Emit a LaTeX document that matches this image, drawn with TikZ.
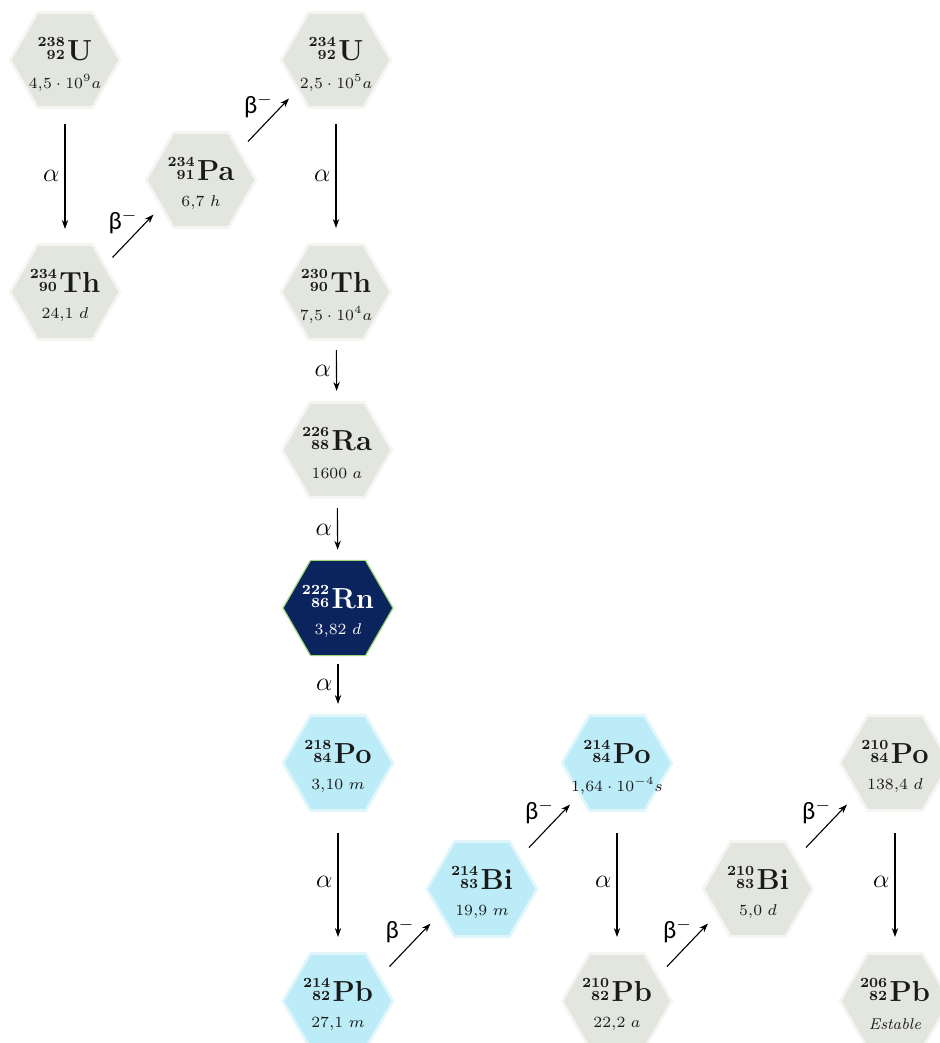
\documentclass[tikz,border=0pt]{standalone}
\usepackage{fix-cm}
\usepackage{fontspec}
\usepackage{amsmath}
\usepackage{xcolor}
\usepackage{tikz}
\usetikzlibrary{shapes.geometric,arrows.meta,calc,positioning}
\newfontfamily\carlito{Carlito}
\definecolor{HexGray}{RGB}{226, 230, 222}
\definecolor{HexBlue}{RGB}{187, 236, 247}
\definecolor{RadonNavy}{RGB}{12, 36, 94}
\definecolor{RadonEdge}{RGB}{160, 215, 120}
\definecolor{SymbolInk}{RGB}{26, 26, 26}
\definecolor{LifeInk}{RGB}{64, 64, 64}
\tikzstyle{hexbase} = [regular polygon, regular polygon sides=6, minimum size=55pt, inner sep=0pt]
\tikzstyle{hexgray} = [hexbase, fill=HexGray, draw=HexGray!35!white, line width=1.4pt]
\tikzstyle{hexblue} = [hexbase, fill=HexBlue, draw=HexBlue!45!white, line width=1.4pt]
\tikzstyle{hexradon} = [hexbase, fill=RadonNavy, draw=RadonEdge, line width=0.6pt]
\tikzstyle{hexgray ink} = [text=SymbolInk]
\tikzstyle{hexblue ink} = [text=SymbolInk]
\tikzstyle{hexradon ink} = [text=white]
\tikzstyle{symb} = [inner sep=0pt]
\tikzstyle{life} = [inner sep=0pt, font=\fontsize{7.8}{8.5}\selectfont]
\tikzstyle{arrow} = [line width=0.55pt, -{Stealth[length=4.5pt,width=3.2pt]}]
\tikzstyle{alphalabel} = [midway, left, inner sep=2.5pt, font=\fontsize{13}{13}\selectfont]
\tikzstyle{betalabel} = [midway, anchor=south east, inner sep=0pt, xshift=2.5pt, yshift=1pt, font=\fontsize{12.5}{12.5}\selectfont]
\tikzstyle{betadecay} = [arrow, to path={($(\tikztostart)!0.5!(\tikztotarget)+(-10.25pt,-10.75pt)$) -- ($(\tikztostart)!0.5!(\tikztotarget)+(10.25pt,10.75pt)$) \tikztonodes}]

% mass number over atomic number, then the element
\newcommand{\nuc}[3]{{\fontsize{7}{5.9}\selectfont\bfseries\raisebox{0.6pt}{\begin{tabular}[b]{@{}r@{}}#1\\#2\end{tabular}}}\kern1.2pt{\fontsize{14.5}{14.5}\selectfont\bfseries #3}}
% hexagon plus its two lines of text
\newcommand{\isotope}[7]{%
  \node (#1) [#3] at (#2) {};
  \node (#1-sym) [symb, #3 ink] at ([yshift=5pt]#1.center) {\nuc{#4}{#5}{#6}};
  \node (#1-life) [life, #3 ink] at ([yshift=-11.5pt]#1.center) {#7};
}

\begin{document}
\begin{tikzpicture}[x=0.5pt, y=-0.5pt]
\useasboundingbox (0,0) rectangle (940,1043);

% Uranio y Torio
\isotope{u238}{65,60}{hexgray}{238}{92}{U}{$4{,}5\cdot 10^{9}a$}
\isotope{th234}{65,292}{hexgray}{234}{90}{Th}{$24{,}1\ d$}
\isotope{pa234}{201,180}{hexgray}{234}{91}{Pa}{$6{,}7\ h$}
\isotope{u234}{336,60}{hexgray}{234}{92}{U}{$2{,}5\cdot 10^{5}a$}
\isotope{th230}{336,292}{hexgray}{230}{90}{Th}{$7{,}5\cdot 10^{4}a$}
\isotope{ra226}{337,450}{hexgray}{226}{88}{Ra}{$1600\ a$}

% Radon y descendientes
\isotope{rn222}{338,608}{hexradon}{222}{86}{Rn}{$3{,}82\ d$}
\isotope{po218}{338,763}{hexblue}{218}{84}{Po}{$3{,}10\ m$}
\isotope{pb214}{338,1001}{hexblue}{214}{82}{Pb}{$27{,}1\ m$}
\isotope{bi214}{482,889}{hexblue}{214}{83}{Bi}{$19{,}9\ m$}
\isotope{po214}{617,763}{hexblue}{214}{84}{Po}{$1{,}64\cdot 10^{-4}s$}
\isotope{pb210}{617,1001}{hexgray}{210}{82}{Pb}{$22{,}2\ a$}
\isotope{bi210}{758,889}{hexgray}{210}{83}{Bi}{$5{,}0\ d$}
\isotope{po210}{895,763}{hexgray}{210}{84}{Po}{$138{,}4\ d$}
\isotope{pb206}{895,1001}{hexgray}{206}{82}{Pb}{\textit{Estable}}

% Desintegraciones alfa
\draw [arrow, shorten <=7.5pt, shorten >=7pt] (u238) -- node[alphalabel] {$\alpha$} (th234);
\draw [arrow, shorten <=7.5pt, shorten >=7.5pt] (u234) -- node[alphalabel] {$\alpha$} (th230);
\draw [arrow, shorten <=4.5pt, shorten >=5pt] (th230) -- node[alphalabel] {$\alpha$} (ra226);
\draw [arrow, shorten <=4.5pt, shorten >=5pt] (ra226) -- node[alphalabel] {$\alpha$} (rn222);
\draw [arrow, shorten <=3.7pt, shorten >=5pt] (rn222) -- node[alphalabel] {$\alpha$} (po218);
\draw [arrow, shorten <=10.5pt, shorten >=7.5pt] (po218) -- node[alphalabel] {$\alpha$} (pb214);
\draw [arrow, shorten <=10.5pt, shorten >=7.5pt] (po214) -- node[alphalabel] {$\alpha$} (pb210);
\draw [arrow, shorten <=10.5pt, shorten >=7.5pt] (po210) -- node[alphalabel] {$\alpha$} (pb206);

% Desintegraciones beta
\draw [betadecay] (th234) to node[betalabel] {{\carlito β}$^{-}$} (pa234);
\draw [betadecay] (pa234) to node[betalabel] {{\carlito β}$^{-}$} (u234);
\draw [betadecay] (pb214) to node[betalabel] {{\carlito β}$^{-}$} (bi214);
\draw [betadecay] (bi214) to node[betalabel] {{\carlito β}$^{-}$} (po214);
\draw [betadecay] (pb210) to node[betalabel] {{\carlito β}$^{-}$} (bi210);
\draw [betadecay] (bi210) to node[betalabel] {{\carlito β}$^{-}$} (po210);

\end{tikzpicture}
\end{document}
